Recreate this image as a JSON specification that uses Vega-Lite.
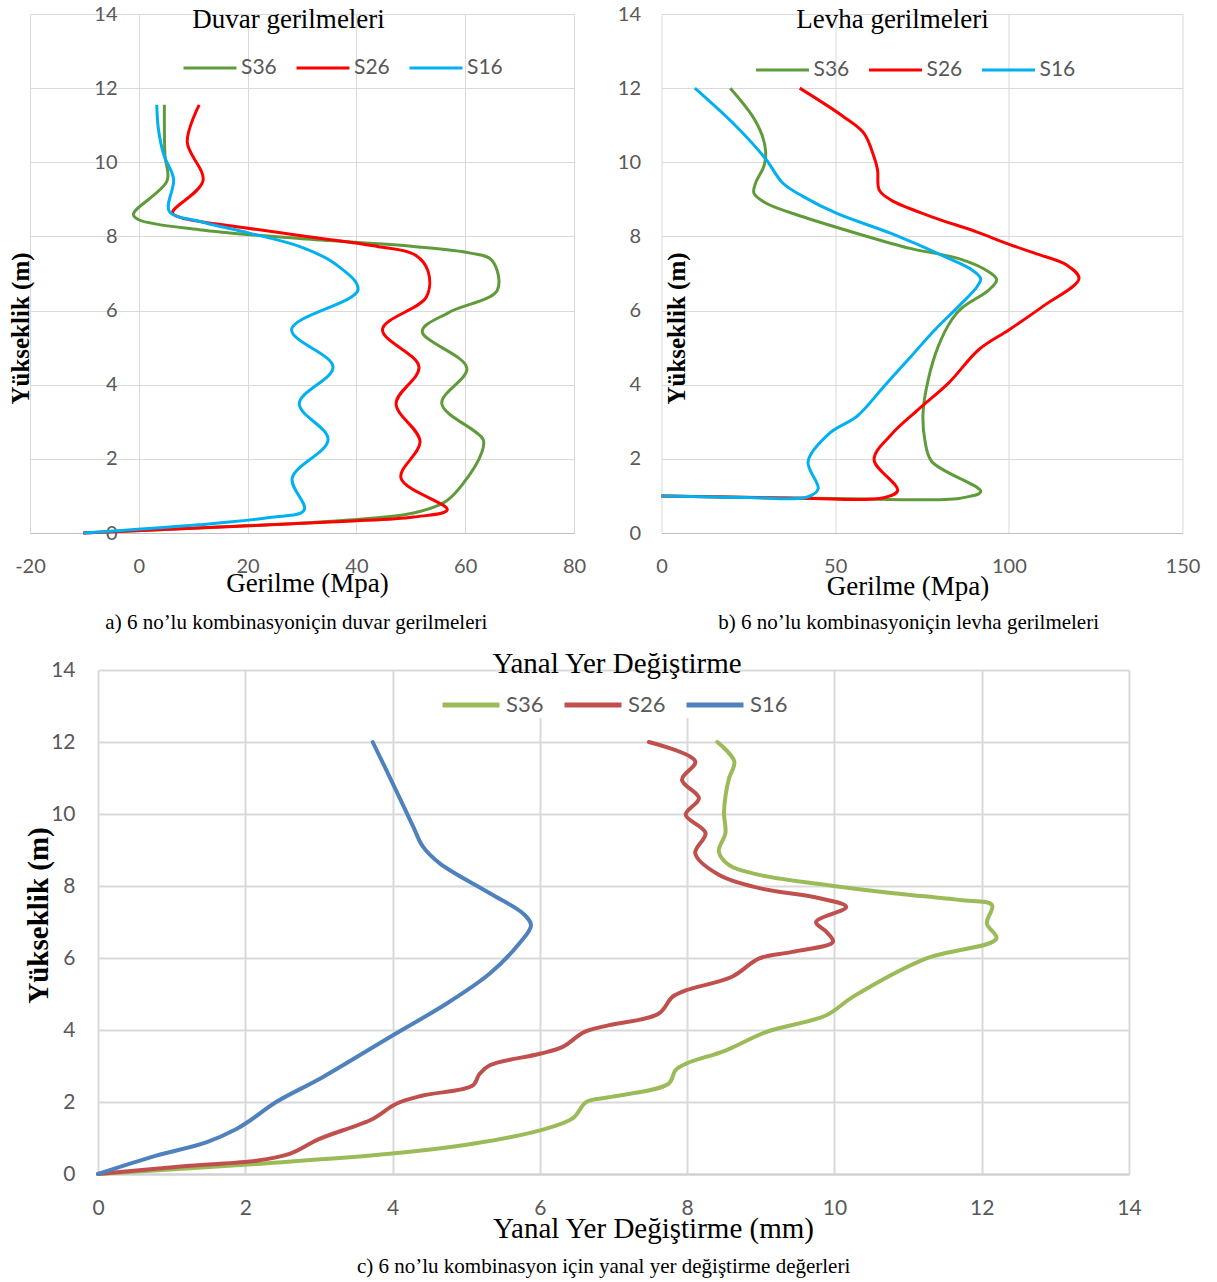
{
  "$schema": "https://vega.github.io/schema/vega-lite/v6.json",
  "background": "white",
  "padding": {"left": 5, "top": 4, "right": 5, "bottom": 5},
  "config": {
    "view": {"stroke": null},
    "axis": {
      "labelFont": "Lato", "labelColor": "#595959", "labelFlush": false, "labelOverlap": false, "labelBound": false,
      "labelExpr": "'' + datum.value",
      "titleFont": "Liberation Serif", "titleColor": "#000000", "titleFontWeight": "normal",
      "ticks": false, "gridColor": "#d9d9d9", "domainColor": "#bfbfbf"
    }
  },
  "datasets": {
    "a": [
      {"s": "S36", "k": 0, "h": 0, "v": -10.2}, {"s": "S36", "k": 1, "h": 0.18, "v": 17.7}, {"s": "S36", "k": 2, "h": 0.34, "v": 37.4},
      {"s": "S36", "k": 3, "h": 0.54, "v": 50.5}, {"s": "S36", "k": 4, "h": 0.85, "v": 56.4}, {"s": "S36", "k": 5, "h": 1.35, "v": 59.7},
      {"s": "S36", "k": 6, "h": 2.16, "v": 63}, {"s": "S36", "k": 7, "h": 2.52, "v": 63.3}, {"s": "S36", "k": 8, "h": 3.49, "v": 55.7},
      {"s": "S36", "k": 9, "h": 4.45, "v": 60.3}, {"s": "S36", "k": 10, "h": 5.44, "v": 52.1}, {"s": "S36", "k": 11, "h": 5.95, "v": 57},
      {"s": "S36", "k": 12, "h": 6.55, "v": 65.9}, {"s": "S36", "k": 13, "h": 7.36, "v": 64.9}, {"s": "S36", "k": 14, "h": 7.55, "v": 61},
      {"s": "S36", "k": 15, "h": 7.73, "v": 50.5}, {"s": "S36", "k": 16, "h": 7.93, "v": 30.8}, {"s": "S36", "k": 17, "h": 8.18, "v": 11.1},
      {"s": "S36", "k": 18, "h": 8.45, "v": 0}, {"s": "S36", "k": 19, "h": 8.6, "v": -1}, {"s": "S36", "k": 20, "h": 9.5, "v": 5.2},
      {"s": "S36", "k": 21, "h": 10.2, "v": 4.8}, {"s": "S36", "k": 22, "h": 11.55, "v": 4.7},
      {"s": "S26", "k": 0, "h": 0, "v": -10.2}, {"s": "S26", "k": 1, "h": 0.31, "v": 37.4}, {"s": "S26", "k": 2, "h": 0.43, "v": 50.5},
      {"s": "S26", "k": 3, "h": 0.63, "v": 56.7}, {"s": "S26", "k": 4, "h": 1.48, "v": 48.2}, {"s": "S26", "k": 5, "h": 2.47, "v": 51.7},
      {"s": "S26", "k": 6, "h": 3.49, "v": 47.3}, {"s": "S26", "k": 7, "h": 4.48, "v": 51.5}, {"s": "S26", "k": 8, "h": 5.49, "v": 44.8},
      {"s": "S26", "k": 9, "h": 6.35, "v": 52.8}, {"s": "S26", "k": 10, "h": 7.05, "v": 53.2}, {"s": "S26", "k": 11, "h": 7.5, "v": 50.8},
      {"s": "S26", "k": 12, "h": 7.73, "v": 43.9}, {"s": "S26", "k": 13, "h": 8.0, "v": 30.8}, {"s": "S26", "k": 14, "h": 8.27, "v": 17.7},
      {"s": "S26", "k": 15, "h": 8.5, "v": 7.9}, {"s": "S26", "k": 16, "h": 8.64, "v": 6.2}, {"s": "S26", "k": 17, "h": 9.5, "v": 11.8},
      {"s": "S26", "k": 18, "h": 10.55, "v": 8.9}, {"s": "S26", "k": 19, "h": 11.55, "v": 11.1},
      {"s": "S16", "k": 0, "h": 0, "v": -10.2}, {"s": "S16", "k": 1, "h": 0.22, "v": 11}, {"s": "S16", "k": 2, "h": 0.42, "v": 24},
      {"s": "S16", "k": 3, "h": 0.62, "v": 30.4}, {"s": "S16", "k": 4, "h": 1.48, "v": 28.2}, {"s": "S16", "k": 5, "h": 2.52, "v": 34.8},
      {"s": "S16", "k": 6, "h": 3.49, "v": 29.5}, {"s": "S16", "k": 7, "h": 4.48, "v": 35.7}, {"s": "S16", "k": 8, "h": 5.49, "v": 28.1},
      {"s": "S16", "k": 9, "h": 6.56, "v": 40.3}, {"s": "S16", "k": 10, "h": 7.27, "v": 36}, {"s": "S16", "k": 11, "h": 7.73, "v": 29.5},
      {"s": "S16", "k": 12, "h": 8.09, "v": 20.3}, {"s": "S16", "k": 13, "h": 8.41, "v": 11.1}, {"s": "S16", "k": 14, "h": 8.68, "v": 5.6},
      {"s": "S16", "k": 15, "h": 9.55, "v": 6.4}, {"s": "S16", "k": 16, "h": 10.2, "v": 4.6}, {"s": "S16", "k": 17, "h": 10.9, "v": 3.6},
      {"s": "S16", "k": 18, "h": 11.55, "v": 3.3}
    ],
    "b": [
      {"s": "S36", "k": 0, "h": 1.0, "v": 0}, {"s": "S36", "k": 1, "h": 0.93, "v": 50}, {"s": "S36", "k": 2, "h": 0.94, "v": 86},
      {"s": "S36", "k": 3, "h": 1.12, "v": 91.9}, {"s": "S36", "k": 4, "h": 1.93, "v": 77.8}, {"s": "S36", "k": 5, "h": 2.52, "v": 75.8},
      {"s": "S36", "k": 6, "h": 3.24, "v": 75.3}, {"s": "S36", "k": 7, "h": 4.14, "v": 76.8}, {"s": "S36", "k": 8, "h": 5.04, "v": 79.7},
      {"s": "S36", "k": 9, "h": 5.76, "v": 83.6}, {"s": "S36", "k": 10, "h": 6.07, "v": 86.5}, {"s": "S36", "k": 11, "h": 6.56, "v": 94.3},
      {"s": "S36", "k": 12, "h": 6.83, "v": 96.5}, {"s": "S36", "k": 13, "h": 7.04, "v": 94.3}, {"s": "S36", "k": 14, "h": 7.4, "v": 85.6},
      {"s": "S36", "k": 15, "h": 7.67, "v": 71.9}, {"s": "S36", "k": 16, "h": 8.08, "v": 56.3}, {"s": "S36", "k": 17, "h": 8.53, "v": 40.7},
      {"s": "S36", "k": 18, "h": 8.9, "v": 30}, {"s": "S36", "k": 19, "h": 9.17, "v": 26.6}, {"s": "S36", "k": 20, "h": 9.44, "v": 27.1},
      {"s": "S36", "k": 21, "h": 9.9, "v": 29.5}, {"s": "S36", "k": 22, "h": 10.27, "v": 30}, {"s": "S36", "k": 23, "h": 10.72, "v": 29},
      {"s": "S36", "k": 24, "h": 11.26, "v": 26.1}, {"s": "S36", "k": 25, "h": 12, "v": 19.8},
      {"s": "S26", "k": 0, "h": 1.0, "v": 0}, {"s": "S26", "k": 1, "h": 0.94, "v": 40}, {"s": "S26", "k": 2, "h": 0.95, "v": 64},
      {"s": "S26", "k": 3, "h": 1.15, "v": 68}, {"s": "S26", "k": 4, "h": 1.98, "v": 61.2}, {"s": "S26", "k": 5, "h": 2.65, "v": 66.1},
      {"s": "S26", "k": 6, "h": 3.33, "v": 73.9}, {"s": "S26", "k": 7, "h": 4.05, "v": 82.7}, {"s": "S26", "k": 8, "h": 4.95, "v": 91.4},
      {"s": "S26", "k": 9, "h": 5.49, "v": 100.2}, {"s": "S26", "k": 10, "h": 6.12, "v": 109.9}, {"s": "S26", "k": 11, "h": 6.86, "v": 120.2},
      {"s": "S26", "k": 12, "h": 7.22, "v": 116.8}, {"s": "S26", "k": 13, "h": 7.53, "v": 108}, {"s": "S26", "k": 14, "h": 7.8, "v": 99.7},
      {"s": "S26", "k": 15, "h": 8.13, "v": 90.5}, {"s": "S26", "k": 16, "h": 8.53, "v": 77.8}, {"s": "S26", "k": 17, "h": 8.98, "v": 66.1},
      {"s": "S26", "k": 18, "h": 9.25, "v": 62.7}, {"s": "S26", "k": 19, "h": 9.8, "v": 62.2}, {"s": "S26", "k": 20, "h": 10.14, "v": 61.2},
      {"s": "S26", "k": 21, "h": 10.78, "v": 58.3}, {"s": "S26", "k": 22, "h": 11.23, "v": 52.4}, {"s": "S26", "k": 23, "h": 12, "v": 39.8},
      {"s": "S16", "k": 0, "h": 1.0, "v": 0}, {"s": "S16", "k": 1, "h": 0.96, "v": 25}, {"s": "S16", "k": 2, "h": 0.97, "v": 42},
      {"s": "S16", "k": 3, "h": 1.19, "v": 45.1}, {"s": "S16", "k": 4, "h": 1.93, "v": 42.2}, {"s": "S16", "k": 5, "h": 2.7, "v": 48.5},
      {"s": "S16", "k": 6, "h": 3.15, "v": 56.3}, {"s": "S16", "k": 7, "h": 3.96, "v": 64.1}, {"s": "S16", "k": 8, "h": 4.77, "v": 71.9},
      {"s": "S16", "k": 9, "h": 5.49, "v": 78.8}, {"s": "S16", "k": 10, "h": 6.12, "v": 85.6}, {"s": "S16", "k": 11, "h": 6.65, "v": 90.9},
      {"s": "S16", "k": 12, "h": 6.86, "v": 91.9}, {"s": "S16", "k": 13, "h": 7.09, "v": 89.5}, {"s": "S16", "k": 14, "h": 7.45, "v": 81.7},
      {"s": "S16", "k": 15, "h": 8.08, "v": 66.1}, {"s": "S16", "k": 16, "h": 8.62, "v": 50.5}, {"s": "S16", "k": 17, "h": 9.08, "v": 40.7},
      {"s": "S16", "k": 18, "h": 9.44, "v": 34.9}, {"s": "S16", "k": 19, "h": 10.09, "v": 30}, {"s": "S16", "k": 20, "h": 11.0, "v": 21.2},
      {"s": "S16", "k": 21, "h": 12, "v": 9.6}
    ],
    "c": [
      {"s": "S36", "k": 0, "h": 0, "v": 0}, {"s": "S36", "k": 1, "h": 0.28, "v": 2.15}, {"s": "S36", "k": 2, "h": 0.56, "v": 3.96},
      {"s": "S36", "k": 3, "h": 0.84, "v": 5.09}, {"s": "S36", "k": 4, "h": 1.21, "v": 6.0}, {"s": "S36", "k": 5, "h": 1.55, "v": 6.45},
      {"s": "S36", "k": 6, "h": 2.0, "v": 6.63}, {"s": "S36", "k": 7, "h": 2.13, "v": 6.93}, {"s": "S36", "k": 8, "h": 2.51, "v": 7.75},
      {"s": "S36", "k": 9, "h": 2.88, "v": 7.84}, {"s": "S36", "k": 10, "h": 3.06, "v": 7.98}, {"s": "S36", "k": 11, "h": 3.43, "v": 8.52},
      {"s": "S36", "k": 12, "h": 3.94, "v": 9.07}, {"s": "S36", "k": 13, "h": 4.41, "v": 9.89}, {"s": "S36", "k": 14, "h": 4.92, "v": 10.25},
      {"s": "S36", "k": 15, "h": 5.99, "v": 11.25}, {"s": "S36", "k": 16, "h": 6.54, "v": 12.2}, {"s": "S36", "k": 17, "h": 6.96, "v": 12.07},
      {"s": "S36", "k": 18, "h": 7.47, "v": 12.14}, {"s": "S36", "k": 19, "h": 7.61, "v": 11.7}, {"s": "S36", "k": 20, "h": 7.8, "v": 10.8},
      {"s": "S36", "k": 21, "h": 8.03, "v": 9.89}, {"s": "S36", "k": 22, "h": 8.31, "v": 8.98}, {"s": "S36", "k": 23, "h": 8.58, "v": 8.57},
      {"s": "S36", "k": 24, "h": 8.96, "v": 8.43}, {"s": "S36", "k": 25, "h": 9.47, "v": 8.52}, {"s": "S36", "k": 26, "h": 10.02, "v": 8.5},
      {"s": "S36", "k": 27, "h": 10.49, "v": 8.52}, {"s": "S36", "k": 28, "h": 11.0, "v": 8.57}, {"s": "S36", "k": 29, "h": 11.46, "v": 8.64},
      {"s": "S36", "k": 30, "h": 12.0, "v": 8.41},
      {"s": "S26", "k": 0, "h": 0, "v": 0}, {"s": "S26", "k": 1, "h": 0.23, "v": 1.24}, {"s": "S26", "k": 2, "h": 0.37, "v": 2.15},
      {"s": "S26", "k": 3, "h": 0.56, "v": 2.6}, {"s": "S26", "k": 4, "h": 0.97, "v": 3.0}, {"s": "S26", "k": 5, "h": 1.53, "v": 3.73},
      {"s": "S26", "k": 6, "h": 1.95, "v": 4.05}, {"s": "S26", "k": 7, "h": 2.18, "v": 4.41}, {"s": "S26", "k": 8, "h": 2.46, "v": 5.09},
      {"s": "S26", "k": 9, "h": 2.78, "v": 5.18}, {"s": "S26", "k": 10, "h": 3.02, "v": 5.32}, {"s": "S26", "k": 11, "h": 3.34, "v": 6.0},
      {"s": "S26", "k": 12, "h": 3.53, "v": 6.31}, {"s": "S26", "k": 13, "h": 3.94, "v": 6.6}, {"s": "S26", "k": 14, "h": 4.13, "v": 6.93},
      {"s": "S26", "k": 15, "h": 4.45, "v": 7.61}, {"s": "S26", "k": 16, "h": 4.92, "v": 7.8}, {"s": "S26", "k": 17, "h": 5.1, "v": 7.98},
      {"s": "S26", "k": 18, "h": 5.48, "v": 8.61}, {"s": "S26", "k": 19, "h": 5.99, "v": 8.98}, {"s": "S26", "k": 20, "h": 6.17, "v": 9.43},
      {"s": "S26", "k": 21, "h": 6.45, "v": 9.98}, {"s": "S26", "k": 22, "h": 6.73, "v": 9.89}, {"s": "S26", "k": 23, "h": 7.0, "v": 9.75},
      {"s": "S26", "k": 24, "h": 7.42, "v": 10.16}, {"s": "S26", "k": 25, "h": 7.66, "v": 9.8}, {"s": "S26", "k": 26, "h": 7.94, "v": 8.98},
      {"s": "S26", "k": 27, "h": 8.31, "v": 8.43}, {"s": "S26", "k": 28, "h": 8.91, "v": 8.11}, {"s": "S26", "k": 29, "h": 9.47, "v": 8.25},
      {"s": "S26", "k": 30, "h": 9.98, "v": 7.98}, {"s": "S26", "k": 31, "h": 10.44, "v": 8.16}, {"s": "S26", "k": 32, "h": 10.95, "v": 7.93},
      {"s": "S26", "k": 33, "h": 11.46, "v": 8.11}, {"s": "S26", "k": 34, "h": 12.0, "v": 7.48},
      {"s": "S16", "k": 0, "h": 0, "v": 0}, {"s": "S16", "k": 1, "h": 0.51, "v": 0.79}, {"s": "S16", "k": 2, "h": 0.88, "v": 1.47},
      {"s": "S16", "k": 3, "h": 1.25, "v": 1.88}, {"s": "S16", "k": 4, "h": 1.48, "v": 2.06}, {"s": "S16", "k": 5, "h": 2.0, "v": 2.42},
      {"s": "S16", "k": 6, "h": 2.69, "v": 3.05}, {"s": "S16", "k": 7, "h": 3.8, "v": 3.96}, {"s": "S16", "k": 8, "h": 4.73, "v": 4.73},
      {"s": "S16", "k": 9, "h": 5.57, "v": 5.32}, {"s": "S16", "k": 10, "h": 6.4, "v": 5.72}, {"s": "S16", "k": 11, "h": 6.91, "v": 5.88},
      {"s": "S16", "k": 12, "h": 7.24, "v": 5.77}, {"s": "S16", "k": 13, "h": 7.8, "v": 5.32}, {"s": "S16", "k": 14, "h": 8.63, "v": 4.64},
      {"s": "S16", "k": 15, "h": 9.1, "v": 4.41}, {"s": "S16", "k": 16, "h": 9.65, "v": 4.28}, {"s": "S16", "k": 17, "h": 10.86, "v": 4.0},
      {"s": "S16", "k": 18, "h": 12.0, "v": 3.73}
    ]
  },
  "resolve": {"scale": {"x": "independent", "y": "independent", "color": "independent"}, "legend": {"color": "independent"}},
  "spacing": 17,
  "vconcat": [
    {
      "resolve": {"scale": {"x": "independent", "y": "independent", "color": "independent"}, "legend": {"color": "independent"}},
      "spacing": 30.5,
      "hconcat": [
        {
          "title": {"text": "a) 6 no’lu kombinasyoniçin duvar gerilmeleri", "orient": "bottom", "anchor": "middle", "offset": 16, "dx": 1, "baseline": "top", "font": "Liberation Serif", "fontSize": 21, "fontWeight": "normal", "color": "#000000"},
          "vconcat": [
            {
              "width": 544, "height": 519,
              "data": {"name": "a"},
              "title": {"text": "Duvar gerilmeleri", "orient": "top", "frame": "group", "anchor": "middle", "dx": -13.5, "offset": -29.5, "baseline": "top", "font": "Liberation Serif", "fontSize": 27, "fontWeight": "normal", "color": "#000000"},
              "mark": {"type": "line", "interpolate": "catmull-rom", "strokeWidth": 3},
              "encoding": {
                "x": {"field": "v", "type": "quantitative", "scale": {"domain": [-20, 80], "nice": false, "zero": false},
                  "axis": {"values": [-20, 0, 20, 40, 60, 80], "title": "Gerilme (Mpa)", "titleFontSize": 27, "titleX": 277, "titleY": 50, "titleBaseline": "middle", "labelPadding": 23, "labelFontSize": 20, "gridWidth": 1}},
                "y": {"field": "h", "type": "quantitative", "scale": {"domain": [0, 14], "nice": false},
                  "axis": {"values": [0, 2, 4, 6, 8, 10, 12, 14], "title": "Yükseklik (m)", "titleFontSize": 25, "titleFontWeight": "bold", "titleX": -10, "titleY": 314, "titleBaseline": "middle", "domain": false, "ticks": true, "tickSize": 25, "tickOpacity": 0, "labelPadding": -112, "labelFontSize": 20, "gridWidth": 1}},
                "color": {"field": "s", "type": "nominal", "scale": {"domain": ["S36", "S26", "S16"], "range": ["#5f9b3b", "#ff0000", "#00b0f0"]},
                  "legend": {"orient": "none", "legendX": 152, "legendY": 26, "direction": "horizontal", "title": null, "symbolType": "stroke", "symbolSize": 2809, "symbolStrokeWidth": 3, "labelFont": "Lato", "labelFontSize": 21, "labelColor": "#595959", "labelOffset": 3, "columnPadding": 13, "padding": 0}},
                "order": {"field": "k", "type": "quantitative"}
              }
            }
          ]
        },
        {
          "title": {"text": "b) 6 no’lu kombinasyoniçin levha gerilmeleri", "orient": "bottom", "anchor": "middle", "offset": 13, "dx": 0, "baseline": "top", "font": "Liberation Serif", "fontSize": 21, "fontWeight": "normal", "color": "#000000"},
          "vconcat": [
            {
              "width": 521, "height": 519,
              "data": {"name": "b"},
              "title": {"text": "Levha gerilmeleri", "orient": "top", "frame": "group", "anchor": "middle", "dx": -29.5, "offset": -29.5, "baseline": "top", "font": "Liberation Serif", "fontSize": 27, "fontWeight": "normal", "color": "#000000"},
              "mark": {"type": "line", "interpolate": "catmull-rom", "strokeWidth": 3},
              "encoding": {
                "x": {"field": "v", "type": "quantitative", "scale": {"domain": [0, 150], "nice": false},
                  "axis": {"values": [0, 50, 100, 150], "title": "Gerilme (Mpa)", "titleFontSize": 27, "titleX": 246, "titleY": 53, "titleBaseline": "middle", "labelPadding": 23, "labelFontSize": 20, "gridWidth": 1}},
                "y": {"field": "h", "type": "quantitative", "scale": {"domain": [0, 14], "nice": false},
                  "axis": {"values": [0, 2, 4, 6, 8, 10, 12, 14], "title": "Yükseklik (m)", "titleFontSize": 25, "titleFontWeight": "bold", "titleX": 15, "titleY": 314, "titleBaseline": "middle", "domain": false, "labelPadding": 21, "labelFontSize": 20, "gridWidth": 1}},
                "color": {"field": "s", "type": "nominal", "scale": {"domain": ["S36", "S26", "S16"], "range": ["#5f9b3b", "#ff0000", "#00b0f0"]},
                  "legend": {"orient": "none", "legendX": 93, "legendY": 28, "direction": "horizontal", "title": null, "symbolType": "stroke", "symbolSize": 2809, "symbolStrokeWidth": 3, "labelFont": "Lato", "labelFontSize": 21, "labelColor": "#595959", "labelOffset": 3, "columnPadding": 13, "padding": 0}},
                "order": {"field": "k", "type": "quantitative"}
              }
            }
          ]
        }
      ]
    },
    {
      "resolve": {"scale": {"x": "independent", "y": "independent", "color": "independent"}, "legend": {"color": "independent"}},
      "title": {"text": "c) 6 no’lu kombinasyon için yanal yer değiştirme değerleri", "orient": "bottom", "anchor": "middle", "offset": 13, "dx": 21, "baseline": "top", "font": "Liberation Serif", "fontSize": 21, "fontWeight": "normal", "color": "#000000"},
      "vconcat": [
        {
          "width": 1099, "height": 504,
          "data": {"name": "c"},
          "title": {"text": "Yanal Yer Değiştirme", "orient": "top", "frame": "group", "anchor": "middle", "dx": 37.5, "offset": -20, "baseline": "top", "font": "Liberation Serif", "fontSize": 29, "fontWeight": "normal", "color": "#000000"},
          "mark": {"type": "line", "interpolate": "catmull-rom", "strokeWidth": 4, "strokeCap": "round"},
          "encoding": {
            "x": {"field": "v", "type": "quantitative", "scale": {"domain": [0, 14], "nice": false, "range": [68, 1099]},
              "axis": {"values": [0, 2, 4, 6, 8, 10, 12, 14], "title": "Yanal Yer Değiştirme (mm)", "titleFontSize": 29, "titleX": 623, "titleY": 54, "titleBaseline": "middle", "labelPadding": 23, "labelFontSize": 21, "gridWidth": 2, "domainWidth": 2, "domainColor": "#d0d0d0"}},
            "y": {"field": "h", "type": "quantitative", "scale": {"domain": [0, 14], "nice": false},
              "axis": {"values": [0, 2, 4, 6, 8, 10, 12, 14], "title": "Yükseklik (m)", "titleFontSize": 29, "titleFontWeight": "bold", "titleX": 8, "titleY": 245, "titleBaseline": "middle", "domain": false, "labelPadding": -45, "labelFontSize": 21, "gridWidth": 2}},
            "color": {"field": "s", "type": "nominal", "scale": {"domain": ["S36", "S26", "S16"], "range": ["#9bbb59", "#c0504d", "#4f81bd"]},
              "legend": {"orient": "none", "legendX": 408, "legendY": 2, "direction": "horizontal", "title": null, "symbolType": "stroke", "symbolSize": 3249, "symbolStrokeWidth": 5, "labelFont": "Lato", "labelFontSize": 22, "labelColor": "#595959", "labelOffset": 4, "columnPadding": 10, "padding": 2, "fillColor": "white"}},
            "order": {"field": "k", "type": "quantitative"}
          }
        }
      ]
    }
  ]
}
